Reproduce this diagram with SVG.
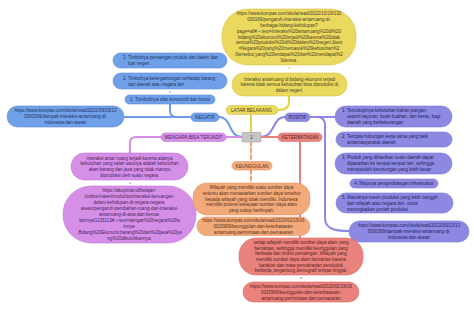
<svg xmlns="http://www.w3.org/2000/svg" width="474" height="313" viewBox="0 0 474 313">
<style>
text{font-family:"Liberation Sans",Arial,sans-serif;font-size:4.5px}
.m{text-anchor:middle}
.lb{font-size:4.7px;text-anchor:middle}
.c{fill:none;stroke-width:2;stroke-linecap:round}
.dot{fill:none;stroke-width:1}
.y rect{fill:#ead85f;stroke:#d8c54a;stroke-width:.6}
.y text{fill:#4a4220}
.b rect{fill:#6fa0e8;stroke:#5b8bd6;stroke-width:.6}
.b text{fill:#1f3466}
.v rect{fill:#d58fe7;stroke:#bf77d4;stroke-width:.6}
.v text{fill:#4b1f5c}
.p rect{fill:#8d89e2;stroke:#7874d0;stroke-width:.6}
.p text{fill:#24225e}
.r rect{fill:#e9827d;stroke:#d66c67;stroke-width:.6}
.r text{fill:#5c1e1c}
.o rect{fill:#f3aa7b;stroke:#e39565;stroke-width:.6}
.o text{fill:#5a3018}
</style>
<rect width="474" height="313" fill="#ffffff"/>
<g id="connectors">
  <path class="c" stroke="#e6d245" d="M289,96 L289,102 Q289,110 278,110"/>
  <path class="c" stroke="#e6d245" d="M251,115 L251,133"/>
  <path class="dot" stroke="#d8c54a" d="M289,67 L289,69"/>
  <path class="c" stroke="#6f9de6" d="M219,117 C232,117 228,137 242,137"/>
  <path class="c" stroke="#6f9de6" d="M191,117 L124,117"/>
  <path class="c" stroke="#6f9de6" d="M170,104 L170,111 Q170,117 177,117"/>
  <path class="dot" stroke="#6f9de6" d="M170,91 L170,93"/>
  <path class="c" stroke="#d58fe7" d="M242,137 L226,137"/>
  <path class="c" stroke="#d58fe7" d="M161,137 L136,137 Q130,137 130,143 L130,153"/>
  <path class="dot" stroke="#bf77d4" d="M130,182 L130,184"/>
  <path class="c" stroke="#8d89e2" d="M261,137 C275,137 272,117 285,117"/>
  <path class="c" stroke="#8d89e2" d="M310,117 L335,117"/>
  <path class="c" stroke="#8d89e2" d="M318,117 C323,117 325,120 325,126 L325,218 C325,228 333,231 349,231"/>
  <path class="c" stroke="#e9827d" d="M261,137 L278,137"/>
  <path class="c" stroke="#e9827d" d="M300,141 L300,238"/>
  <path class="dot" stroke="#d66c67" d="M301,277 L301,279"/>
  <path class="c" stroke="#f3a474" stroke-dasharray="4,2.5" d="M251,142 L251,161.5"/>
  <path class="c" stroke="#f3a474" stroke-dasharray="4,2.5" d="M251,170 L251,183"/>
</g>
<g id="center">
  <rect x="242" y="132.5" width="19" height="9.5" rx="1" fill="#c6c6c6" stroke="#9c9c9c" stroke-width=".6"/>
  <text x="251.5" y="139" class="m" fill="#333" font-size="5">1</text>
</g>
<g id="latar" class="y">
  <rect x="226" y="105.5" width="52" height="9" rx="4.5"/>
  <text x="251.5" y="111.7" class="lb">LATAR BELAKANG</text>
</g>
<g id="y-interaksi" class="y">
  <rect x="232" y="73" width="115" height="23" rx="11.5"/>
  <text x="289.5" class="m"><tspan x="289.5" y="80.6">Interaksi antarruang di bidang ekonomi terjadi</tspan><tspan x="289.5" y="86.1">karena tidak semua kebutuhan bisa diproduksi di</tspan><tspan x="289.5" y="91.6">dalam negeri.</tspan></text>
</g>
<g id="y-url" class="y">
  <rect x="222" y="9" width="134" height="56" rx="26"/>
  <text class="m"><tspan x="289" y="15.4">https://www.kompas.com/skola/read/2022/10/19/130</tspan><tspan x="289" y="21.2">000169/pengaruh-interaksi-antarruang-di-</tspan><tspan x="289" y="27">berbagai-bidang-kehidupan?</tspan><tspan x="289" y="32.8">page=all#:~:text=Interaksi%20antarruang%20di%20</tspan><tspan x="289" y="38.6">bidang%20ekonomi%20terjadi%20karena%20tidak</tspan><tspan x="289" y="44.4">semua%20produksi%20di%20dalam%20negeri.&amp;text</tspan><tspan x="289" y="50.2">=Negara%20yang%20memasok%20kebutuhan%2</tspan><tspan x="289" y="56">0tersebut,yang%20terdapat%20dan%20mendapat%2</tspan><tspan x="289" y="61.8">0devisa.</tspan></text>
</g>
<g id="negatif" class="b">
  <rect x="191" y="113" width="28" height="8.5" rx="4.25"/>
  <text x="205" y="119" class="lb">NEGATIF</text>
</g>
<g id="neg-3" class="b">
  <rect x="113" y="53" width="114" height="15" rx="7.5"/>
  <text><tspan x="123" y="59.1">3. Timbulnya persaingan produk dari dalam dan</tspan><tspan x="128" y="65.1">luar negeri.</tspan></text>
</g>
<g id="neg-2" class="b">
  <rect x="113" y="73" width="114" height="16" rx="8"/>
  <text><tspan x="123" y="79.6">2. Timbulnya ketergantungan terhadap barang</tspan><tspan x="128" y="85.6">dari daerah atau negara lain</tspan></text>
</g>
<g id="neg-1" class="b">
  <rect x="125" y="95" width="90" height="9" rx="4.5"/>
  <text x="170" y="101.1" class="m">1. Tumbuhnya sifat konsumtif dan boros</text>
</g>
<g id="neg-url" class="b">
  <rect x="7" y="106" width="117" height="21" rx="10.5"/>
  <text class="m"><tspan x="65.5" y="112.1">https://www.kompas.com/skola/read/2022/09/23/13</tspan><tspan x="65.5" y="118.1">3000369/dampak-interaksi-antarruang-di-</tspan><tspan x="65.5" y="124.1">indonesia-dan-asean</tspan></text>
</g>
<g id="mengapa" class="v">
  <rect x="161" y="133" width="65" height="8.5" rx="4.25"/>
  <text x="193.5" y="139" class="lb">MENGAPA BISA TERJADI?</text>
</g>
<g id="v-interaksi" class="v">
  <rect x="71" y="153" width="117" height="27" rx="13.5"/>
  <text class="m"><tspan x="129.5" y="159.7">Interaksi antar ruang terjadi karena adanya</tspan><tspan x="129.5" y="165.3">kebutuhan yang salah satunya adalah kebutuhan</tspan><tspan x="129.5" y="170.9">akan barang dan jasa yang tidak mampu</tspan><tspan x="129.5" y="176.5">diproduksi oleh suatu negara.</tspan></text>
</g>
<g id="v-url" class="v">
  <rect x="63" y="186" width="133" height="57" rx="28"/>
  <text class="m"><tspan x="129.5" y="192.1">https://akupintar.id/belajar/-</tspan><tspan x="129.5" y="198.1">/online/materi/modul/ips/interaksi-keruangan-</tspan><tspan x="129.5" y="204.1">dalam-kehidupan-di-negara-negara-</tspan><tspan x="129.5" y="210.1">asean/pengaruh-perubahan-ruang-dan-interaksi-</tspan><tspan x="129.5" y="216.1">antarruang-di-asia-dan-benua-</tspan><tspan x="129.5" y="222.1">lainnya/1135113#:~:text=dengan%20negara%20la</tspan><tspan x="129.5" y="228.1">innya-</tspan><tspan x="129.5" y="234.1">,Bidang%20Ekonomi,barang%20dan%20jasa%20ya</tspan><tspan x="129.5" y="240.1">ng%20dibutuhkannya.</tspan></text>
</g>
<g id="positif" class="p">
  <rect x="285" y="113" width="25" height="8.5" rx="4.25"/>
  <text x="297.5" y="119" class="lb">POSITIF</text>
</g>
<g id="pos-1" class="p">
  <rect x="335" y="106" width="117" height="21" rx="10.5"/>
  <text><tspan x="342" y="112.1">1. Tercukupinya kebutuhan bahan pangan,</tspan><tspan x="347" y="118.1">seperti sayuran, buah-buahan, dan beras, bagi</tspan><tspan x="347" y="124.1">daerah yang berkekurangan</tspan></text>
</g>
<g id="pos-2" class="p">
  <rect x="336" y="132" width="116" height="15" rx="7.5"/>
  <text><tspan x="342" y="138.1">2. Tercipta hubungan kerja sama yang baik</tspan><tspan x="347" y="144.1">antarmasyarakat daerah</tspan></text>
</g>
<g id="pos-3" class="p">
  <rect x="335" y="153" width="117" height="21" rx="10.5"/>
  <text><tspan x="342" y="159.1">3. Produk yang dihasilkan suatu daerah dapat</tspan><tspan x="347" y="165.1">dipasarkan ke tempat-tempat lain, sehingga</tspan><tspan x="347" y="171.1">memperoleh keuntungan yang lebih besar</tspan></text>
</g>
<g id="pos-4" class="p">
  <rect x="350" y="179" width="88" height="9" rx="4.5"/>
  <text x="394" y="185.1" class="m">4. Majunya pengembangan infrastruktur</text>
</g>
<g id="pos-5" class="p">
  <rect x="336" y="193" width="117" height="20" rx="10"/>
  <text><tspan x="342" y="198.6">5. Masuknya mesin produksi yang lebih canggih</tspan><tspan x="347" y="204.6">dari wilayah atau negara lain, untuk</tspan><tspan x="347" y="210.6">meningkatkan jumlah produksi</tspan></text>
</g>
<g id="pos-url" class="p">
  <rect x="349" y="221" width="120" height="21" rx="10.5"/>
  <text class="m"><tspan x="409" y="227.1">https://www.kompas.com/skola/read/2022/09/23/13</tspan><tspan x="409" y="233.1">3000369/dampak-interaksi-antarruang-di-</tspan><tspan x="409" y="239.1">indonesia-dan-asean</tspan></text>
</g>
<g id="keterbatasan" class="r">
  <rect x="278" y="133" width="44" height="8.5" rx="4.25"/>
  <text x="300" y="139" class="lb">KETERBATASAN</text>
</g>
<g id="keunggulan" class="o">
  <rect x="232" y="161.5" width="40" height="8.5" rx="4.25"/>
  <text x="252" y="167.5" class="lb">KEUNGGULAN</text>
</g>
<g id="o-wilayah" class="o">
  <rect x="193" y="183" width="117" height="32" rx="14"/>
  <text class="m"><tspan x="251.5" y="189.4">Wilayah yang memiliki suatu sumber daya</tspan><tspan x="251.5" y="195">tertentu akan menawarkan sumber daya tersebut</tspan><tspan x="251.5" y="200.6">kepada wilayah yang tidak memiliki. Indonesia</tspan><tspan x="251.5" y="206.2">memiliki potensi kekayaan sumber daya alam</tspan><tspan x="251.5" y="211.8">yang cukup berlimpah.</tspan></text>
</g>
<g id="o-url" class="o">
  <rect x="197" y="217" width="113" height="18.5" rx="9"/>
  <text class="m"><tspan x="253.5" y="222.1">https://www.kompas.com/skola/read/2020/02/19/16</tspan><tspan x="253.5" y="227.9">0015969/keunggulan-dan-keterbatasan-</tspan><tspan x="253.5" y="233.6">antarruang-permintaan-dan-pemasaran</tspan></text>
</g>
<g id="r-setiap" class="r">
  <rect x="239" y="238" width="124" height="37" rx="17"/>
  <text class="m"><tspan x="301" y="243.9">setiap wilayah memiliki sumber daya alam yang</tspan><tspan x="301" y="249.6">bervariasi, sehingga memiliki keunggulan yang</tspan><tspan x="301" y="255.3">berbeda dan timbul persaingan. Wilayah yang</tspan><tspan x="301" y="261">memiliki sumber daya alam bervariasi karena</tspan><tspan x="301" y="266.7">karakter dan mata pencaharian penduduk</tspan><tspan x="301" y="272.4">berbeda, tergantung demografi tempat tinggal.</tspan></text>
</g>
<g id="r-url" class="r">
  <rect x="243" y="282" width="116" height="20" rx="10"/>
  <text class="m"><tspan x="301" y="287.6">https://www.kompas.com/skola/read/2020/02/19/16</tspan><tspan x="301" y="293.6">0015969/keunggulan-dan-keterbatasan-</tspan><tspan x="301" y="299.6">antarruang-permintaan-dan-pemasaran</tspan></text>
</g>
</svg>
